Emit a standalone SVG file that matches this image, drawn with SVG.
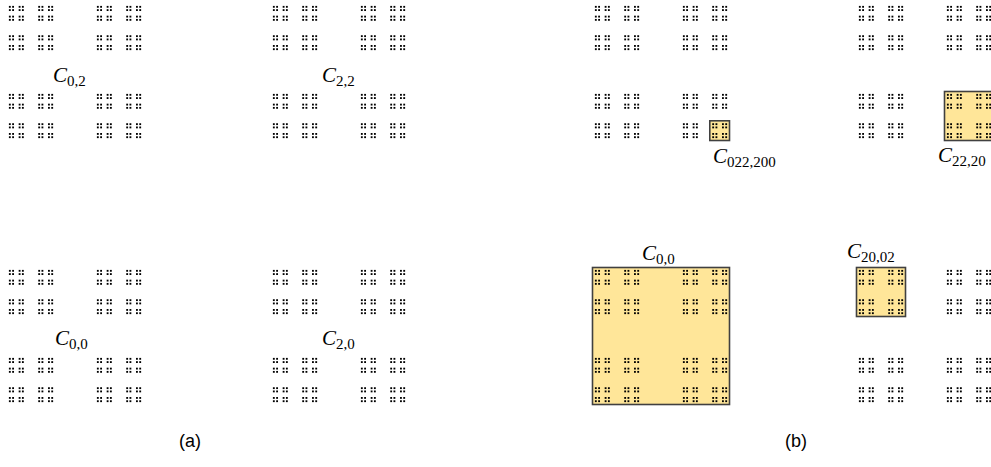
<svg xmlns="http://www.w3.org/2000/svg" xmlns:xlink="http://www.w3.org/1999/xlink" width="991" height="467" viewBox="0 0 991 467">
<style>
.dot{fill:#000}
.hl{fill:#FFE699;stroke:#404040;stroke-width:1.6}
.lbl{font-family:"Liberation Serif","DejaVu Serif",serif;font-size:21px;fill:#000}
.lbl .c{font-style:italic}
.lbl .s{font-size:15px}
.cap{font-family:"Liberation Sans","Open Sans",sans-serif;font-size:18px;fill:#000;text-anchor:middle}
</style>
<defs>
<rect id="d5" class="dot" x="-0.1" y="-0.1" width="1.85" height="1.85"/>
<g id="d4"><use href="#d5"/><use href="#d5" x="3.2593"/><use href="#d5" y="3.2593"/><use href="#d5" x="3.2593" y="3.2593"/></g>
<g id="d3"><use href="#d4"/><use href="#d4" x="9.7778"/><use href="#d4" y="9.7778"/><use href="#d4" x="9.7778" y="9.7778"/></g>
<g id="d2"><use href="#d3"/><use href="#d3" x="29.3333"/><use href="#d3" y="29.3333"/><use href="#d3" x="29.3333" y="29.3333"/></g>
<g id="d1"><use href="#d2"/><use href="#d2" x="88"/><use href="#d2" y="88"/><use href="#d2" x="88" y="88"/></g>
<g id="d0"><use href="#d1"/><use href="#d1" x="264"/><use href="#d1" y="264"/><use href="#d1" x="264" y="264"/></g>
</defs>

<g id="panel-a">
<use href="#d0" x="9" y="6"/>
<g id="a-C02"><text class="lbl" x="53" y="82"><tspan class="c">C</tspan><tspan class="s" dy="4">0,2</tspan></text></g>
<g id="a-C22"><text class="lbl" x="322" y="82"><tspan class="c">C</tspan><tspan class="s" dy="4">2,2</tspan></text></g>
<g id="a-C00"><text class="lbl" x="55" y="345"><tspan class="c">C</tspan><tspan class="s" dy="4">0,0</tspan></text></g>
<g id="a-C20"><text class="lbl" x="322" y="345"><tspan class="c">C</tspan><tspan class="s" dy="4">2,0</tspan></text></g>
<text class="cap" x="190" y="447">(a)</text>
</g>

<g id="panel-b">
<g id="b-boxes">
<rect id="b-C00-box" class="hl" x="592.5" y="267.5" width="137" height="137"/>
<rect id="b-C2002-box" class="hl" x="856.5" y="267.5" width="49" height="49"/>
<rect id="b-C2220-box" class="hl" x="944.5" y="91.5" width="49" height="49"/>
<rect id="b-C022200-box" class="hl" x="709.8" y="120.8" width="19.7" height="19.7"/>
</g>
<use href="#d0" x="595" y="6"/>
<g id="b-C00"><text class="lbl" x="642" y="260"><tspan class="c">C</tspan><tspan class="s" dy="4">0,0</tspan></text></g>
<g id="b-C2002"><text class="lbl" x="847" y="258"><tspan class="c">C</tspan><tspan class="s" dy="4">20,02</tspan></text></g>
<g id="b-C022200"><text class="lbl" x="713" y="163"><tspan class="c">C</tspan><tspan class="s" dy="4">022,200</tspan></text></g>
<g id="b-C2220"><text class="lbl" x="938" y="162"><tspan class="c">C</tspan><tspan class="s" dy="4">22,20</tspan></text></g>
<text class="cap" x="796" y="447">(b)</text>
</g>
</svg>
